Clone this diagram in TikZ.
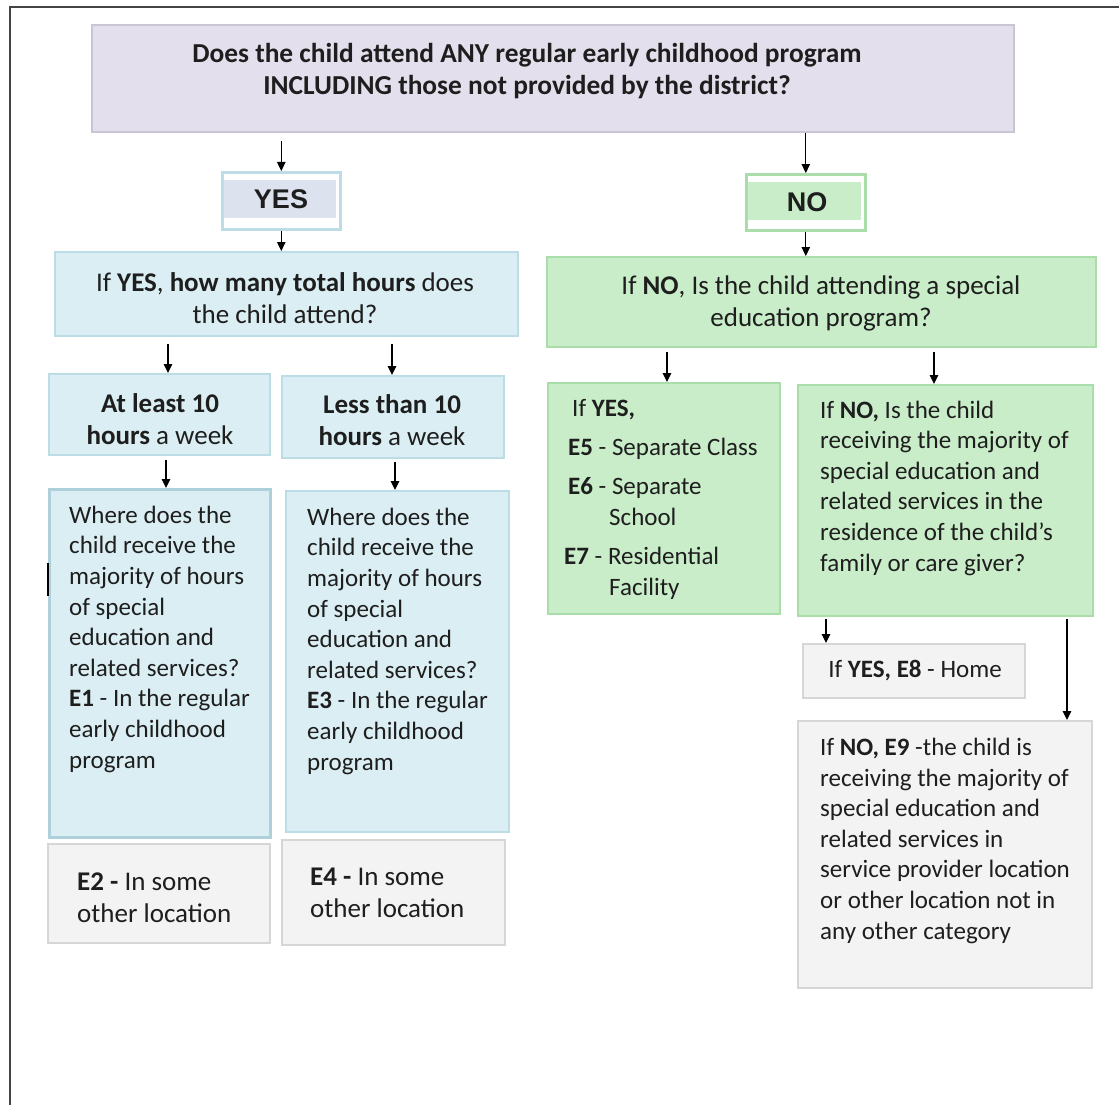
\documentclass[tikz,border=0pt]{standalone}
\usepackage{fontspec}
\setmainfont{Carlito}
\newfontfamily\yesfont{Liberation Sans}
\usetikzlibrary{arrows.meta}
\definecolor{lavfill}{HTML}{E4DFEC}
\definecolor{lavline}{HTML}{CAC5D3}
\definecolor{bluefill}{HTML}{DAEEF3}
\definecolor{blueline}{HTML}{BCDCE6}
\definecolor{bluedark}{HTML}{ADD0DB}
\definecolor{bandblue}{HTML}{DCE3EE}
\definecolor{greenfill}{HTML}{C9EDC9}
\definecolor{greenline}{HTML}{A9DDA9}
\definecolor{grayfill}{HTML}{F3F3F3}
\definecolor{grayline}{HTML}{D6D6D6}
\definecolor{txtc}{HTML}{1E1E1E}
\definecolor{framec}{HTML}{444444}
\tikzset{
  boxs/.style={draw, line width=1.6pt, inner sep=0pt, anchor=north west, rectangle},
  lavbox/.style={boxs, fill=lavfill, draw=lavline},
  bluebox/.style={boxs, fill=bluefill, draw=blueline},
  greenbox/.style={boxs, fill=greenfill, draw=greenline},
  graybox/.style={boxs, fill=grayfill, draw=grayline},
  txt/.style={inner sep=0pt, text=txtc, font=\fontsize{25}{30.6}\selectfont, align=left},
  bigtxt/.style={txt, font=\fontsize{27}{32}\selectfont},
  ctxt/.style={txt, align=center},
  bigctxt/.style={bigtxt, align=center},
  arr/.style={-{Triangle[length=9pt,width=8.5pt]}, line width=1.1pt, black},
}
\begin{document}
\begin{tikzpicture}[x=1pt,y=-1pt]
\useasboundingbox (0,0) rectangle (1119,1105);
% frame
\draw[framec, line width=2pt] (10,1105) -- (10,7) -- (1119,7);

% top question
\node[lavbox, minimum width=922, minimum height=107] (top) at (91,24) {};
\node[bigctxt, anchor=base, font=\fontsize{27.4}{32}\selectfont\bfseries] (topt) at (527,95)
  {Does the child attend ANY regular early childhood program\\INCLUDING those not provided by the district?};

% YES / NO
\node[boxs, draw=blueline, fill=white, line width=2.6pt, minimum width=118, minimum height=57] (yes) at (221,171) {};
\fill[bandblue] (224,180) rectangle (336,218);
\node[inner sep=0pt, anchor=base, font=\yesfont\fontsize{27}{30}\selectfont\bfseries, text=txtc] (yest) at (281,208) {YES};
\node[boxs, draw=greenline, fill=white, line width=2.6pt, minimum width=119, minimum height=56] (no) at (745,173) {};
\fill[greenfill] (748,182) rectangle (861,220);
\node[inner sep=0pt, anchor=base, font=\yesfont\fontsize{27}{30}\selectfont\bfseries, text=txtc] (not) at (807,211) {NO};

% level 2
\node[bluebox, minimum width=463, minimum height=84] (hours) at (54,251) {};
\node[bigctxt, anchor=base] (hourst) at (285,323)
  {If \textbf{YES}, \textbf{how many total hours} does\\the child attend?};
\node[greenbox, minimum width=549, minimum height=90] (sped) at (546,256) {};
\node[bigctxt, anchor=base] (spedt) at (821,326)
  {If \textbf{NO}, Is the child attending a special\\education program?};

% level 3 left
\node[bluebox, minimum width=221, minimum height=81] (atl) at (48,373) {};
\node[bigctxt, anchor=base] (atlt) at (160,444) {\textbf{At least 10}\\\textbf{hours} a week};
\node[bluebox, minimum width=222, minimum height=82] (lt) at (281,375) {};
\node[bigctxt, anchor=base] (ltt) at (392,445) {\textbf{Less than 10}\\\textbf{hours} a week};

% E1 / E3
\node[boxs, fill=bluefill, draw=bluedark, line width=2.6pt, minimum width=221, minimum height=348] (e1) at (48,488) {};
\node[txt, anchor=base west] (e1t) at (69,768)
  {Where does the\\child receive the\\majority of hours\\of special\\education and\\related services?\\\textbf{E1} - In the regular\\early childhood\\program};
% cursor mark
\draw[black, line width=1.2pt] (48,563) -- (48,596);
\node[bluebox, minimum width=223, minimum height=341] (e3) at (285,490) {};
\node[txt, anchor=base west] (e3t) at (307,770)
  {Where does the\\child receive the\\majority of hours\\of special\\education and\\related services?\\\textbf{E3} - In the regular\\early childhood\\program};

% E2 / E4
\node[graybox, minimum width=222, minimum height=99] (e2) at (47,843) {};
\node[bigtxt, anchor=base west] (e2t) at (77,922) {\textbf{E2 -} In some\\other location};
\node[graybox, minimum width=223, minimum height=105] (e4) at (281,839) {};
\node[bigtxt, anchor=base west] (e4t) at (310,917) {\textbf{E4 -} In some\\other location};

% right side
\node[greenbox, minimum width=232, minimum height=231] (e57) at (547,382) {};
\node[txt, anchor=base west] (e57t) at (564,595)
  {\hspace*{8pt}If \textbf{YES,}\\[8.4pt]
   \hspace*{4pt}\textbf{E5} - Separate Class\\[8.4pt]
   \hspace*{4pt}\textbf{E6} - Separate\\
   \hspace*{45pt}School\\[8.4pt]
   \textbf{E7} - Residential\\
   \hspace*{45pt}Facility};
\node[greenbox, minimum width=295, minimum height=231] (res) at (797,384) {};
\node[txt, anchor=base west] (rest) at (820,571)
  {If \textbf{NO,} Is the child\\receiving the majority of\\special education and\\related services in the\\residence of the child’s\\family or care giver?};

\node[graybox, minimum width=222, minimum height=54] (e8) at (802,643) {};
\node[ctxt, anchor=base] (e8t) at (915,677) {If \textbf{YES, E8} - Home};
\node[graybox, minimum width=294, minimum height=267] (e9) at (797,720) {};
\node[txt, anchor=base west] (e9t) at (820,939)
  {If \textbf{NO, E9} -the child is\\receiving the majority of\\special education and\\related services in\\service provider location\\or other location not in\\any other category};

% connectors
\draw[arr] (top.south -| yes.north) ++(0,8) -- (yes.north);
\draw[arr] (top.south -| no.north) -- (no.north);
\draw[arr] (yes.south) -- (hours.north -| yes.south);
\draw[arr] (no.south) -- (sped.north -| no.south);
\draw[arr] (hours.south -| 168,0) ++(0,7) -- (atl.north -| 168,0);
\draw[arr] (hours.south -| 392,0) ++(0,7) -- (lt.north -| 392,0);
\draw[arr] (atl.south -| 166,0) ++(0,4) -- (e1.north -| 166,0);
\draw[arr] (lt.south -| 395,0) ++(0,3) -- (e3.north -| 395,0);
\draw[arr] (sped.south -| 667,0) ++(0,4) -- (e57.north -| 667,0);
\draw[arr] (sped.south -| 934,0) ++(0,4) -- (res.north -| 934,0);
\draw[arr] (res.south -| 826,0) ++(0,2) -- (e8.north -| 826,0);
\draw[arr] (res.south -| 1067,0) ++(0,2) -- (e9.north -| 1067,0);
\end{tikzpicture}
\end{document}
